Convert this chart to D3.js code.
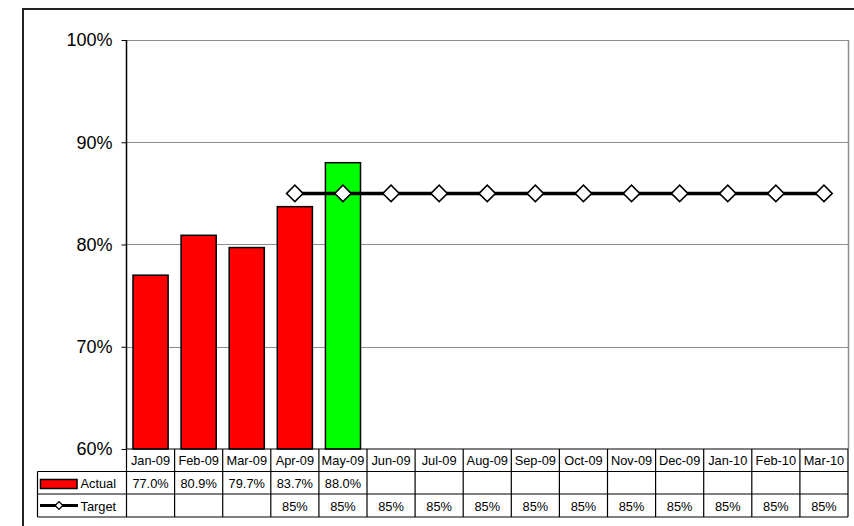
<!DOCTYPE html>
<html>
<head>
<meta charset="utf-8">
<script src="https://cdn.jsdelivr.net/npm/d3@7"></script>
<style>
  html, body { margin: 0; padding: 0; background: #fff; overflow: hidden; }
  svg { display: block; font-family: "Liberation Sans", Arial, sans-serif; }
</style>
</head>
<body>
<svg id="chart" width="854" height="526"></svg>
<script>
// Monthly performance against target
const months = ["Jan-09","Feb-09","Mar-09","Apr-09","May-09","Jun-09","Jul-09","Aug-09",
                "Sep-09","Oct-09","Nov-09","Dec-09","Jan-10","Feb-10","Mar-10"];
const actual = [0.770, 0.809, 0.797, 0.837, 0.880, null, null, null, null, null, null, null, null, null, null];
const target = [null, null, null, 0.85, 0.85, 0.85, 0.85, 0.85, 0.85, 0.85, 0.85, 0.85, 0.85, 0.85, 0.85];
const yTicks = [0.6, 0.7, 0.8, 0.9, 1.0];
const goal = 0.85;

const svg = d3.select("#chart");

const plotLeft = 126.5, plotRight = 848, plotTop = 40, plotBottom = 449;
const rowH = [449, 471.5, 494, 517];
const tableLeft = 37.5;

const x = d3.scaleBand().domain(months).range([plotLeft, plotRight]).padding(0);
const y = d3.scaleLinear().domain([0.6, 1.0]).range([plotBottom, plotTop]);

// outer frame
svg.append("rect")
  .attr("x", 23).attr("y", 9).attr("width", 900).attr("height", 600)
  .attr("fill", "none").attr("stroke", "#222").attr("stroke-width", 2);

// gridlines
svg.append("g").selectAll("line")
  .data(yTicks.filter(t => t > 0.6))
  .join("line")
  .attr("x1", plotLeft).attr("x2", plotRight)
  .attr("y1", d => Math.round(y(d)) + 0.5).attr("y2", d => Math.round(y(d)) + 0.5)
  .attr("stroke", "#8c8c8c").attr("stroke-width", 1);

// plot area right edge
svg.append("line")
  .attr("x1", plotRight + 0.5).attr("x2", plotRight + 0.5)
  .attr("y1", plotTop).attr("y2", plotBottom)
  .attr("stroke", "#8c8c8c").attr("stroke-width", 1.5);

// bars
const bw = x.bandwidth() * 0.73;
svg.append("g").selectAll("rect")
  .data(months.map((m, i) => ({ m, v: actual[i] })).filter(d => d.v != null))
  .join("rect")
  .attr("x", d => x(d.m) + (x.bandwidth() - bw) / 2)
  .attr("width", bw)
  .attr("y", d => y(d.v))
  .attr("height", d => y(0.6) - y(d.v))
  .attr("fill", d => d.v >= goal ? "#00ff00" : "#ff0000")
  .attr("stroke", "#000").attr("stroke-width", 1.5);

// y axis
const yAxis = d3.axisLeft(y)
  .tickValues(yTicks)
  .tickSize(5)
  .tickPadding(9)
  .tickFormat(d3.format(".0%"));
const gy = svg.append("g").attr("transform", `translate(${plotLeft},0)`).call(yAxis);
gy.select(".domain").attr("stroke", "#000").attr("stroke-width", 1.5).attr("d", `M0,${plotTop}V${plotBottom}`);
gy.selectAll(".tick line").attr("stroke", "#000");
gy.selectAll(".tick text").attr("font-size", 18).attr("fill", "#000")
  .attr("font-family", "Liberation Sans, Arial, sans-serif");

// target line
const pts = months.map((m, i) => ({ m, v: target[i] }));
const line = d3.line()
  .defined(d => d.v != null)
  .x(d => x(d.m) + x.bandwidth() / 2)
  .y(d => y(d.v));
svg.append("path")
  .datum(pts)
  .attr("d", line)
  .attr("fill", "none").attr("stroke", "#000").attr("stroke-width", 3.5);

const diamond = d3.symbol().type(d3.symbolSquare).size(136);
svg.append("g").selectAll("path")
  .data(pts.filter(d => d.v != null))
  .join("path")
  .attr("d", diamond)
  .attr("transform", d => `translate(${x(d.m) + x.bandwidth() / 2},${y(d.v)}) rotate(45)`)
  .attr("fill", "#fff").attr("stroke", "#000").attr("stroke-width", 1.6);

// data table
const tbl = svg.append("g");
const hLine = (y0, x0, x1) => tbl.append("line")
  .attr("x1", x0).attr("x2", x1).attr("y1", y0).attr("y2", y0)
  .attr("stroke", "#000").attr("stroke-width", 1.2);
const vLine = (x0, y0, y1) => tbl.append("line")
  .attr("x1", x0).attr("x2", x0).attr("y1", y0).attr("y2", y1)
  .attr("stroke", "#000").attr("stroke-width", 1.2);

hLine(rowH[0], plotLeft, plotRight);
hLine(rowH[1], tableLeft, plotRight);
hLine(rowH[2], tableLeft, plotRight);
hLine(rowH[3], tableLeft, plotRight);
vLine(tableLeft, rowH[1], rowH[3]);
months.forEach(m => vLine(x(m), rowH[0], rowH[3]));
vLine(plotRight, rowH[0], rowH[3]);

const cellText = (vals, fmt, baseline) => tbl.append("g").selectAll("text")
  .data(months.map((m, i) => ({ m, v: vals[i] })).filter(d => d.v != null))
  .join("text")
  .attr("x", d => x(d.m) + x.bandwidth() / 2)
  .attr("y", baseline)
  .attr("text-anchor", "middle")
  .attr("font-size", 12.8)
  .attr("fill", "#000")
  .text(d => fmt(d.v));

cellText(months, d => d, 465);
cellText(actual, d3.format(".1%"), 488);
cellText(target, d3.format(".0%"), 511);

// legend keys inside the table
tbl.append("rect")
  .attr("x", 40.5).attr("y", 479.5).attr("width", 36.5).attr("height", 9)
  .attr("fill", "#ff0000").attr("stroke", "#000").attr("stroke-width", 1.5);
tbl.append("text").attr("x", 80.5).attr("y", 488).attr("font-size", 12.8).text("Actual");

tbl.append("line")
  .attr("x1", 40).attr("x2", 78).attr("y1", 505.5).attr("y2", 505.5)
  .attr("stroke", "#000").attr("stroke-width", 3);
tbl.append("path")
  .attr("d", d3.symbol().type(d3.symbolSquare).size(30)())
  .attr("transform", "translate(59,505.5) rotate(45)")
  .attr("fill", "#fff").attr("stroke", "#000").attr("stroke-width", 1.3);
tbl.append("text").attr("x", 80.5).attr("y", 511).attr("font-size", 12.8).text("Target");
</script>
</body>
</html>
